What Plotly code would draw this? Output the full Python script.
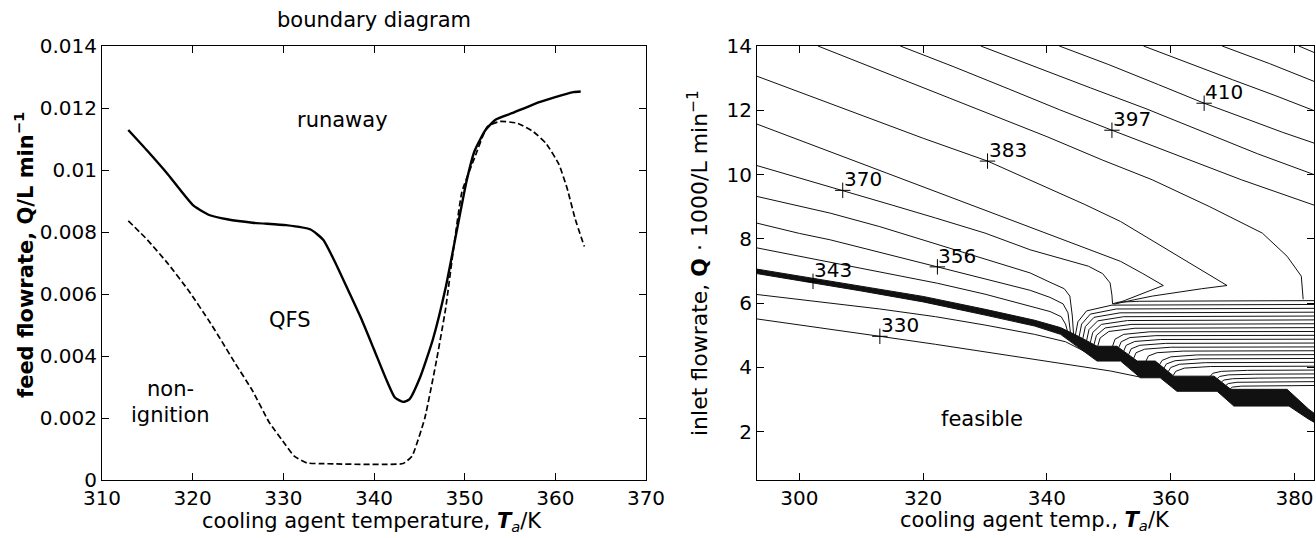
import plotly.graph_objects as go

W, H = 1316, 538
FONT = "DejaVu Sans"
FS = 20      # tick labels
LFS = 21     # labels / titles

# ---------------- left panel: boundary diagram ----------------
solid_T = [312.9, 315.0, 317.3, 320.1, 321.9, 323.8, 326.6, 330.3, 333.0, 334.4, 335.8, 337.2,
           338.6, 340.0, 341.4, 342.3, 343.2, 343.9, 345.1, 346.5, 347.9, 349.3, 350.2, 351.1,
           352.3, 353.4, 355.3, 357.6, 359.9, 362.0, 362.8]
solid_Q = [0.01129, 0.01062, 0.00985, 0.00885, 0.00854, 0.00841, 0.00830, 0.00822, 0.00808,
           0.00775, 0.00697, 0.00609, 0.00520, 0.00421, 0.00321, 0.00266, 0.00252, 0.00260,
           0.00332, 0.00454, 0.00620, 0.00830, 0.00963, 0.01062, 0.01129, 0.01162, 0.01184,
           0.01212, 0.01234, 0.01251, 0.01253]

dash_T = [312.9, 315.0, 317.3, 319.6, 321.9, 323.3, 324.7, 326.6, 328.4, 330.3, 331.2, 332.6,
          334.0, 343.2, 344.2, 345.6, 346.9, 347.9, 348.8, 349.7, 351.1, 352.5, 353.9, 355.8,
          357.6, 359.0, 360.4, 361.3, 362.2, 363.2]
dash_Q = [0.00836, 0.00775, 0.00697, 0.00609, 0.00509, 0.00443, 0.00376, 0.00288, 0.00188,
          0.00111, 0.00077, 0.00055, 0.00053, 0.00053, 0.00077, 0.00199, 0.00387, 0.00553,
          0.00753, 0.00930, 0.01040, 0.01140, 0.01157, 0.01151, 0.01123, 0.01085, 0.01018,
          0.00941, 0.00841, 0.00753]

left_xticks = [310, 320, 330, 340, 350, 360, 370]
left_yticks = [0, 0.002, 0.004, 0.006, 0.008, 0.010, 0.012, 0.014]
left_yticktext = ["0", "0.002", "0.004", "0.006", "0.008", "0.01", "0.012", "0.014"]

region_labels = ["runaway", "QFS", "non-", "ignition"]
region_T = [336.5, 330.7, 317.5, 317.5]
region_Q = [0.0116, 0.00515, 0.00292, 0.00209]

# ---------------- right panel: temperature contours ----------------
c330_x = [293.15, 303.0, 313.0, 322.0, 330.0, 338.0, 345.0, 350.3, 355.1]
c330_y = [5.51, 5.25, 4.97, 4.72, 4.49, 4.26, 4.05, 3.89, 3.70]
c337_x = [293.15, 305.0, 313.0, 322.0, 330.0, 338.0, 343.0, 346.6]
c337_y = [6.27, 6.01, 5.82, 5.58, 5.32, 5.03, 4.80, 4.45]
c350_x = [293.15, 300.0, 305.0, 313.0, 322.3, 330.0, 337.3, 340.5, 342.3, 343.0, 343.3]
c350_y = [7.72, 7.46, 7.28, 6.98, 6.62, 6.28, 5.92, 5.74, 5.58, 5.35, 5.14]
c357_x = [293.15, 300.0, 305.0, 313.0, 322.3, 330.0, 337.3, 340.5, 342.6, 343.4, 343.8]
c357_y = [8.49, 8.17, 7.97, 7.58, 7.13, 6.76, 6.40, 6.18, 5.98, 5.70, 5.08]
c363_x = [293.15, 300.0, 305.0, 313.0, 322.0, 330.0, 337.3, 340.5, 342.8, 343.7, 344.1, 344.3]
c363_y = [9.32, 9.02, 8.80, 8.38, 7.85, 7.38, 6.94, 6.65, 6.45, 6.22, 5.60, 5.03]
c370_x = [293.15, 300.0, 307.0, 315.0, 322.0, 330.0, 337.3, 342.0, 346.7, 349.0, 350.2, 350.5, 350.6]
c370_y = [10.28, 9.90, 9.51, 9.05, 8.65, 8.18, 7.66, 7.40, 7.15, 6.92, 6.63, 6.25, 5.98]
c377_x = [293.15, 302.0, 311.0, 320.0, 330.0, 340.0, 346.0, 351.9, 355.5, 358.8, 356.5, 354.2, 352.5, 351.4]
c377_y = [11.57, 10.93, 10.28, 9.63, 8.90, 8.18, 7.75, 7.30, 6.92, 6.55, 6.38, 6.22, 6.08, 6.00]
c383_x = [293.15, 302.0, 311.0, 320.0, 330.4, 340.0, 346.0, 351.9, 357.0, 362.0, 366.0, 369.1,
          365.0, 360.5, 357.0, 354.2, 352.0, 350.8]
c383_y = [13.06, 12.42, 11.78, 11.13, 10.42, 9.60, 9.08, 8.54, 7.95, 7.37, 6.91, 6.55,
          6.45, 6.32, 6.22, 6.11, 6.03, 5.97]
c390_x = [303.0, 312.0, 321.0, 330.0, 340.0, 349.0, 357.0, 366.2, 374.8, 378.8, 381.1, 381.4]
c390_y = [14.0, 13.32, 12.62, 11.95, 11.18, 10.45, 9.84, 9.01, 8.18, 7.46, 6.84, 6.12]
c397_x = [316.3, 325.0, 334.0, 342.0, 350.5, 360.0, 371.4, 383.15]
c397_y = [14.0, 13.35, 12.65, 12.02, 11.38, 10.67, 9.84, 9.05]
c403_x = [329.3, 338.0, 347.0, 356.0, 365.0, 374.0, 383.15]
c403_y = [14.0, 13.35, 12.70, 12.05, 11.35, 10.65, 10.00]
c410_x = [342.0, 350.0, 358.0, 365.4, 372.0, 378.0, 383.15]
c410_y = [14.0, 13.42, 12.80, 12.22, 11.75, 11.32, 10.98]
c417_x = [355.6, 363.0, 370.0, 377.0, 383.15]
c417_y = [14.0, 13.45, 12.95, 12.45, 11.99]
c423_x = [368.3, 376.0, 383.15]
c423_y = [14.0, 13.45, 12.90]
c430_x = [380.7, 383.15]
c430_y = [14.0, 13.80]

# thick band of crowded contours (runaway boundary)
band_up_x = [293.15, 302.2, 310.0, 320.0, 330.0, 338.0, 342.2, 345.0, 348.1, 351.3, 354.6,
             357.5, 360.5, 367.0, 369.7, 378.8, 382.3, 383.15]
band_up_y = [7.06, 6.77, 6.54, 6.21, 5.81, 5.47, 5.24, 4.98, 4.66, 4.66, 4.20,
             4.20, 3.73, 3.73, 3.32, 3.32, 2.70, 2.58]
band_lo_x = [293.15, 302.2, 310.0, 320.0, 330.0, 338.0, 342.2, 348.1, 351.9, 355.1, 358.3,
             361.0, 367.5, 370.2, 379.1, 382.3, 383.15]
band_lo_y = [6.92, 6.62, 6.38, 6.04, 5.63, 5.29, 5.03, 4.20, 4.20, 3.68, 3.68,
             3.26, 3.26, 2.80, 2.80, 2.39, 2.30]

# fan of dense contours above the stepped boundary (each list = one line)
fan_x = [
    [350.6, 351.5, 355.0, 383.15],
    [344.6, 345.0, 346.4, 350.5, 383.15],
    [345.2, 345.6, 347.0, 351.2, 383.15],
    [345.8, 346.2, 347.6, 351.8, 383.15],
    [346.4, 346.8, 348.2, 352.4, 383.15],
    [347.0, 347.4, 348.8, 353.0, 383.15],
    [347.6, 348.0, 349.4, 353.6, 383.15],
    [348.2, 348.6, 350.0, 354.2, 383.15],
    [350.6, 351.0, 352.4, 356.6, 383.15],
    [351.6, 352.0, 353.4, 357.6, 383.15],
    [352.4, 352.8, 354.2, 358.4, 383.15],
    [353.2, 353.6, 355.0, 359.2, 383.15],
    [354.0, 354.4, 355.8, 360.0, 383.15],
    [356.0, 356.4, 357.8, 362.0, 383.15],
    [358.2, 358.6, 360.0, 364.2, 383.15],
    [358.9, 359.3, 360.7, 364.9, 383.15],
    [359.6, 360.0, 361.4, 365.6, 383.15],
    [360.4, 360.8, 362.2, 366.4, 383.15],
    [366.4, 366.8, 368.2, 372.4, 383.15],
    [367.5, 367.9, 369.3, 373.5, 383.15],
    [368.2, 368.6, 370.0, 374.2, 383.15],
    [368.9, 369.3, 370.7, 374.9, 383.15],
    [369.6, 370.0, 371.4, 375.6, 383.15],
]
fan_y = [
    [5.98, 6.03, 6.06, 6.08],
    [5.01, 5.42, 5.76, 5.94, 5.96],
    [4.96, 5.35, 5.66, 5.82, 5.84],
    [4.90, 5.27, 5.56, 5.70, 5.72],
    [4.83, 5.18, 5.45, 5.58, 5.60],
    [4.77, 5.09, 5.34, 5.46, 5.48],
    [4.71, 5.00, 5.23, 5.34, 5.36],
    [4.66, 4.92, 5.12, 5.22, 5.24],
    [4.66, 4.88, 5.03, 5.11, 5.12],
    [4.62, 4.80, 4.93, 4.99, 5.00],
    [4.51, 4.69, 4.81, 4.87, 4.88],
    [4.40, 4.58, 4.69, 4.75, 4.76],
    [4.28, 4.46, 4.57, 4.63, 4.64],
    [4.20, 4.36, 4.46, 4.51, 4.52],
    [4.09, 4.22, 4.33, 4.39, 4.40],
    [3.98, 4.11, 4.21, 4.27, 4.28],
    [3.87, 4.00, 4.10, 4.15, 4.16],
    [3.75, 3.88, 3.98, 4.03, 4.04],
    [3.73, 3.82, 3.88, 3.91, 3.92],
    [3.65, 3.72, 3.77, 3.79, 3.80],
    [3.55, 3.61, 3.65, 3.67, 3.68],
    [3.44, 3.50, 3.54, 3.55, 3.56],
    [3.34, 3.39, 3.42, 3.43, 3.44],
]

clabel_text = ["330", "343", "356", "370", "383", "397", "410"]
clabel_x = [313.0, 302.2, 322.3, 307.0, 330.4, 350.5, 365.4]
clabel_y = [4.97, 6.68, 7.13, 9.51, 10.42, 11.38, 12.22]

right_xticks = [300, 320, 340, 360, 380]
right_yticks = [2, 4, 6, 8, 10, 12, 14]

# ---------------- figure ----------------
fig = go.Figure()

fig.add_trace(go.Scatter(x=solid_T, y=solid_Q, mode="lines", xaxis="x", yaxis="y",
                         line=dict(color="black", width=2.4, shape="spline", smoothing=0.5)))
fig.add_trace(go.Scatter(x=dash_T, y=dash_Q, mode="lines", xaxis="x", yaxis="y",
                         line=dict(color="black", width=1.7, dash="6px,3px",
                                   shape="spline", smoothing=0.4)))

thin = dict(color="#111111", width=1)
for cx, cy in [(c330_x, c330_y), (c337_x, c337_y), (c350_x, c350_y), (c357_x, c357_y),
               (c363_x, c363_y), (c370_x, c370_y), (c377_x, c377_y), (c383_x, c383_y),
               (c390_x, c390_y), (c397_x, c397_y), (c403_x, c403_y), (c410_x, c410_y),
               (c417_x, c417_y), (c423_x, c423_y), (c430_x, c430_y)]:
    fig.add_trace(go.Scatter(x=cx, y=cy, mode="lines", xaxis="x2", yaxis="y2", line=thin))

for fx, fy in zip(fan_x, fan_y):
    fig.add_trace(go.Scatter(x=fx, y=fy, mode="lines", xaxis="x2", yaxis="y2", line=thin))

fig.add_trace(go.Scatter(x=band_up_x + band_lo_x[::-1], y=band_up_y + band_lo_y[::-1],
                         mode="lines", fill="toself", fillcolor="#111111",
                         line=dict(color="#111111", width=1), xaxis="x2", yaxis="y2"))

fig.add_trace(go.Scatter(x=clabel_x, y=clabel_y, mode="markers", xaxis="x2", yaxis="y2",
                         marker=dict(symbol="cross-thin", size=11,
                                     line=dict(color="black", width=1))))

axis_common = dict(showline=True, linecolor="black", linewidth=1, mirror="ticks",
                   ticks="inside", ticklen=7, tickcolor="black", tickwidth=1,
                   showgrid=False, zeroline=False, automargin=False,
                   tickfont=dict(family=FONT, size=FS, color="black"))

ydom = [1 - 480 / H, 1 - 46 / H]
fig.update_layout(
    template="none",
    width=W, height=H, margin=dict(l=0, r=0, t=0, b=0, pad=0, autoexpand=False),
    paper_bgcolor="white", plot_bgcolor="white", showlegend=False,
    xaxis=dict(domain=[102 / W, 646 / W], range=[310, 370], tickvals=left_xticks,
               anchor="y", **axis_common),
    yaxis=dict(domain=ydom, range=[0, 0.014], tickvals=left_yticks,
               ticktext=left_yticktext, anchor="x", **axis_common),
    xaxis2=dict(domain=[757 / W, 1314 / W], range=[293.15, 383.15], tickvals=right_xticks,
                anchor="y2", **axis_common),
    yaxis2=dict(domain=ydom, range=[0.5, 14], tickvals=right_yticks, anchor="x2",
                **axis_common),
)


def paper_note(text, px, py, angle=0, size=LFS):
    return dict(text=text, x=px / W, y=1 - py / H, xref="paper", yref="paper",
                xanchor="center", yanchor="middle", showarrow=False, textangle=angle,
                font=dict(family=FONT, size=size, color="black"))


ann = []
for t, x, y in zip(region_labels, region_T, region_Q):
    ann.append(dict(text=t, x=x, y=y, xref="x", yref="y", showarrow=False,
                    xanchor="center", yanchor="middle",
                    font=dict(family=FONT, size=LFS, color="black")))
for t, x, y in zip(clabel_text, clabel_x, clabel_y):
    ann.append(dict(text=t, x=x, y=y, xref="x2", yref="y2", showarrow=False,
                    xanchor="left", yanchor="bottom", xshift=-1, yshift=-3,
                    font=dict(family=FONT, size=FS, color="black")))
ann.append(dict(text="feasible", x=329.5, y=2.4, xref="x2", yref="y2", showarrow=False,
                xanchor="center", yanchor="middle",
                font=dict(family=FONT, size=LFS, color="black")))
ann.append(paper_note("boundary diagram", 374, 20))
ann.append(paper_note("cooling agent temperature, <b><i>T</i></b><sub><i>a</i></sub>/K", 372, 522))
ann.append(paper_note("cooling agent temp., <b><i>T</i></b><sub><i>a</i></sub>/K", 1035, 521))
ann.append(paper_note("<b>feed flowrate, Q/L min<sup>−1</sup></b>", 24, 255, angle=-90))
ann.append(paper_note("inlet flowrate, <b>Q</b> · 1000/L min<sup>−1</sup>", 698, 263, angle=-90,
                      size=LFS + 1))
fig.update_layout(annotations=ann)

fig.write_html("out.html", config={"displayModeBar": False},
               post_script="document.body.style.margin='0';document.body.style.padding='0';"
                           "document.body.style.overflow='hidden';")
